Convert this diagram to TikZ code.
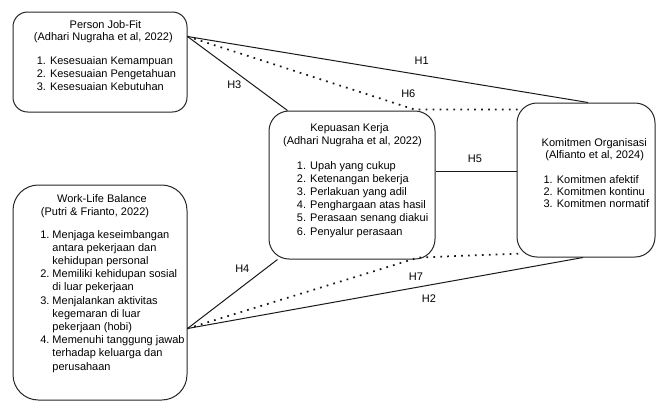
\documentclass[tikz,border=0pt]{standalone}
\usepackage{fontspec}
\setmainfont{Liberation Sans}
\begin{document}
\begin{tikzpicture}[x=0.75pt,y=-0.75pt,
  box/.style={draw=black!85, line width=0.75pt, inner sep=0pt},
  txt/.style={inner sep=0pt, anchor=base, font=\fontsize{8.25}{9.9}\selectfont},
  lst/.style={inner sep=0pt, anchor=base west, font=\fontsize{8.25}{9.9}\selectfont},
  lbl/.style={inner sep=0pt, font=\fontsize{8.25}{9.9}\selectfont},
  conn/.style={draw=black!90, line width=0.75pt},
  dotconn/.style={draw=black!90, line width=1.3pt, dash pattern=on 1.3pt off 3.9pt}]
\useasboundingbox (0,0) rectangle (656,401);
% boxes
\node[box, rounded corners=11pt, minimum width=130.5pt, minimum height=75pt] (pjf) at (100,62) {};
\node[box, rounded corners=19pt, minimum width=130.5pt, minimum height=161.25pt] (wlb) at (100,292.5) {};
\node[box, rounded corners=15pt, minimum width=124.5pt, minimum height=111pt] (kk) at (352,185) {};
\node[box, rounded corners=15pt, minimum width=103.5pt, minimum height=115.5pt] (ko) at (586,180) {};
% Person Job-Fit
\node[txt] (pjft) at (105.5,28.3) {Person Job-Fit};
\node[txt] (pjfs) at (103.3,40.7) {(Adhari Nugraha et al, 2022)};
\node[lst] (pjfl) at (36.5,64.3) {\begin{tabular}[t]{@{}l@{}}
1. Kesesuaian Kemampuan\\
2. Kesesuaian Pengetahuan\\
3. Kesesuaian Kebutuhan
\end{tabular}};
% Work-Life Balance
\node[txt] (wlbt) at (102,202.7) {Work-Life Balance};
\node[txt] (wlbs) at (95,215.7) {(Putri \& Frianto, 2022)};
\node[lst] (wlbl) at (40,238) {\begin{tabular}[t]{@{}l@{\ }l@{}}
1. & Menjaga keseimbangan\\
   & antara pekerjaan dan\\
   & kehidupan personal\\
2. & Memiliki kehidupan sosial\\
   & di luar pekerjaan\\
3. & Menjalankan aktivitas\\
   & kegemaran di luar\\
   & pekerjaan (hobi)\\
4. & Memenuhi tanggung jawab\\
   & terhadap keluarga dan\\
   & perusahaan
\end{tabular}};
% Kepuasan Kerja
\node[txt] (kkt) at (349.5,131.7) {Kepuasan Kerja};
\node[txt] (kks) at (352.5,144.3) {(Adhari Nugraha et al, 2022)};
\node[lst] (kkl) at (296.7,169) {\begin{tabular}[t]{@{}l@{}}
1. Upah yang cukup\\
2. Ketenangan bekerja\\
3. Perlakuan yang adil\\
4. Penghargaan atas hasil\\
5. Perasaan senang diakui\\
6. Penyalur perasaan
\end{tabular}};
% Komitmen Organisasi
\node[txt] (kot) at (594.3,146.7) {Komitmen Organisasi};
\node[txt] (kos) at (594.7,158.5) {(Alfianto et al, 2024)};
\node[lst, font=\fontsize{8.25}{9.2}\selectfont] (kol) at (543.3,183.3) {\begin{tabular}[t]{@{}l@{}}
1. Komitmen afektif\\
2. Komitmen kontinu\\
3. Komitmen normatif
\end{tabular}};
% connectors
\draw[conn] ([yshift=-18.75pt]pjf.north east) -- ([xshift=1.5pt]ko.north);
\draw[conn] ([yshift=-18.75pt]pjf.north east) -- ([xshift=14.25pt]kk.north west);
\draw[dotconn] ([yshift=-18.75pt]pjf.north east) -- ([xshift=-15.75pt,yshift=0.75pt]kk.north east) -- ([xshift=3pt,yshift=-5.25pt]ko.north west);
\draw[conn] ([yshift=10.5pt]kk.east) -- ([yshift=6.75pt]ko.west);
\draw[conn] ([yshift=-108pt]wlb.north east) -- ([xshift=6.75pt]kk.south west);
\draw[dotconn] ([yshift=-108pt]wlb.north east) -- ([xshift=-12.75pt,yshift=1.5pt]kk.south east) -- ([xshift=4.5pt,yshift=3pt]ko.south west);
\draw[conn] ([yshift=-108pt]wlb.north east) -- ([xshift=-2.25pt]ko.south);
% labels
\node[lbl] (h1) at (421.7,60.7) {H1};
\node[lbl] (h6) at (408.3,94) {H6};
\node[lbl] (h3) at (234.3,84.3) {H3};
\node[lbl] (h5) at (475,159) {H5};
\node[lbl] (h4) at (242.3,268.7) {H4};
\node[lbl] (h7) at (416,276.7) {H7};
\node[lbl] (h2) at (429,298.3) {H2};
\end{tikzpicture}
\end{document}
